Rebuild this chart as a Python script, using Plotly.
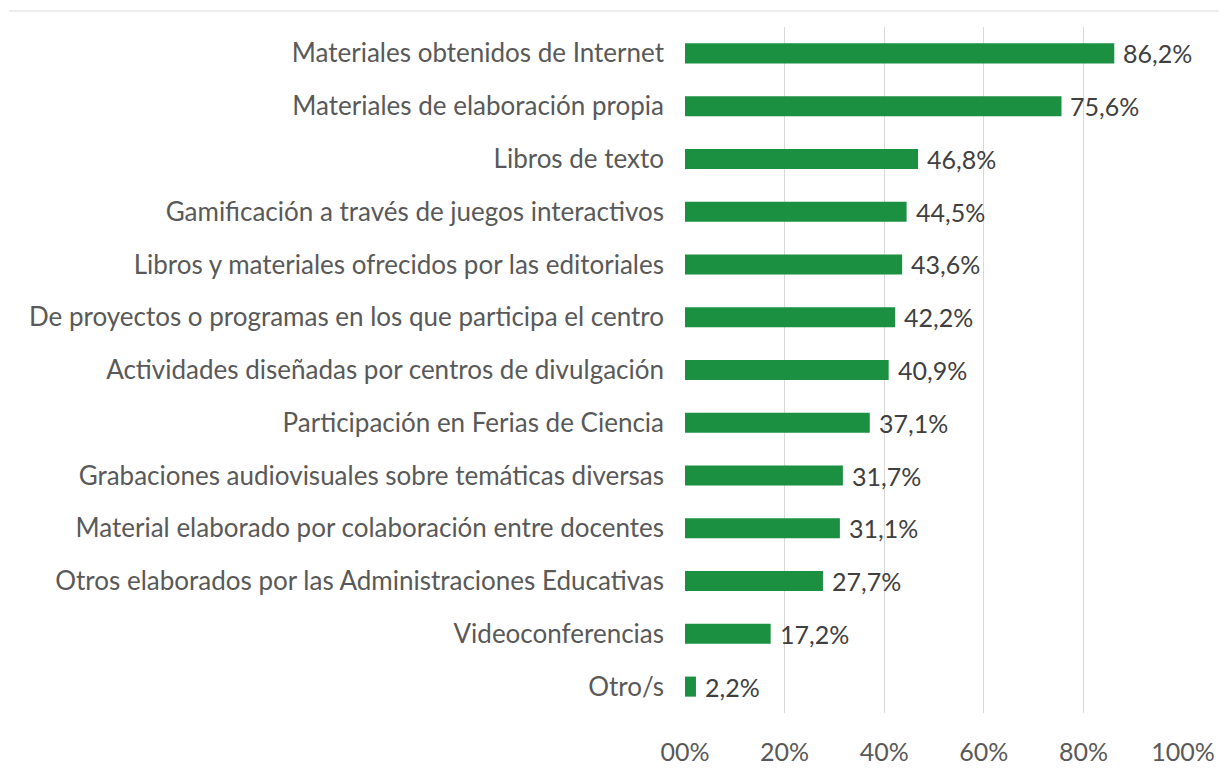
import plotly.graph_objects as go

categories = [
    "Materiales obtenidos de Internet",
    "Materiales de elaboración propia",
    "Libros de texto",
    "Gamificación a través de juegos interactivos",
    "Libros y materiales ofrecidos por las editoriales",
    "De proyectos o programas en los que participa el centro",
    "Actividades diseñadas por centros de divulgación",
    "Participación en Ferias de Ciencia",
    "Grabaciones audiovisuales sobre temáticas diversas",
    "Material elaborado por colaboración entre docentes",
    "Otros elaborados por las Administraciones Educativas",
    "Videoconferencias",
    "Otro/s",
]
values = [86.2, 75.6, 46.8, 44.5, 43.6, 42.2, 40.9, 37.1, 31.7, 31.1, 27.7, 17.2, 2.2]
tick_vals = [0, 20, 40, 60, 80, 100]
tick_text = ["00%", "20%", "40%", "60%", "80%", "100%"]

labels = [f"{v:.1f}%".replace(".", ",") for v in values]

FONT = "Lato"
W, H = 1211, 757
L, R, T, B = 677, 36, 19, 52
dom_w = W - L - R
dom_h = H - T - B

fig = go.Figure(go.Bar(
    y=categories,
    x=values,
    orientation="h",
    marker=dict(color="#1a9040", line=dict(width=0)),
    width=0.38,
    hoverinfo="skip",
))

annotations = [
    dict(x=v, y=c, xref="x", yref="y", text=t, showarrow=False,
         xanchor="left", yanchor="middle", xshift=7,
         font=dict(family=FONT, size=25, color="#404040"))
    for c, v, t in zip(categories, values, labels)
]

fig.update_layout(
    width=W,
    height=H,
    margin=dict(l=L, r=R, t=T, b=B),
    paper_bgcolor="white",
    plot_bgcolor="white",
    showlegend=False,
    font=dict(family=FONT, size=26, color="#595959"),
    annotations=annotations,
    xaxis=dict(
        range=[0, 100],
        tickvals=tick_vals,
        ticktext=tick_text,
        showgrid=True,
        gridcolor="#d9d9d9",
        gridwidth=1,
        zeroline=False,
        showline=False,
        ticks="",
        automargin=False,
        tickfont=dict(family=FONT, size=25, color="#595959"),
        ticklabelstandoff=22,
        fixedrange=True,
    ),
    yaxis=dict(
        autorange="reversed",
        showgrid=False,
        showline=False,
        ticks="",
        automargin=False,
        ticklabelstandoff=20,
        tickfont=dict(family=FONT, size=26, color="#595959"),
        fixedrange=True,
    ),
    shapes=[dict(
        type="line", xref="paper", yref="paper",
        x0=(1 - L) / dom_w, x1=1 + (R + 10) / dom_w,
        y0=1 + 16 / dom_h, y1=1 + 16 / dom_h,
        line=dict(color="#d9d9d9", width=1),
    )],
)

fig.write_html("out.html")
